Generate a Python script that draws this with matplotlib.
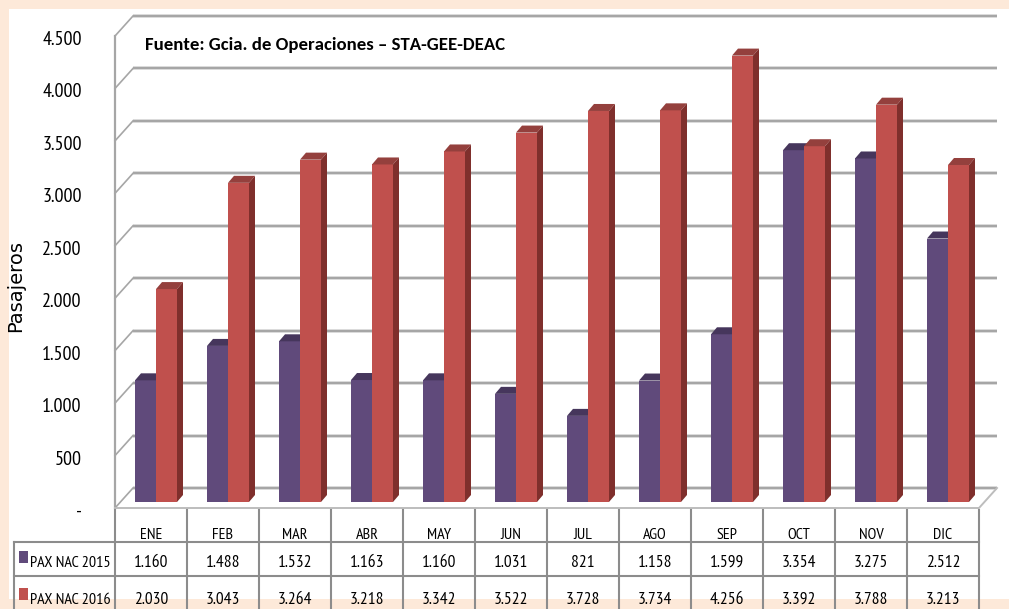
import numpy as np
from matplotlib import pyplot as plt
from matplotlib.patches import Polygon, Rectangle
from matplotlib.transforms import ScaledTranslation

meses = ['ENE', 'FEB', 'MAR', 'ABR', 'MAY', 'JUN', 'JUL', 'AGO', 'SEP', 'OCT', 'NOV', 'DIC']
pax_2015 = [1160, 1488, 1532, 1163, 1160, 1031, 821, 1158, 1599, 3354, 3275, 2512]
pax_2016 = [2030, 3043, 3264, 3218, 3342, 3522, 3728, 3734, 4256, 3392, 3788, 3213]
ticks_y = [0, 500, 1000, 1500, 2000, 2500, 3000, 3500, 4000, 4500]
labels_y = ['-', '500', '1.000', '1.500', '2.000', '2.500', '3.000', '3.500', '4.000', '4.500']
nombres = ['PAX NAC 2015', 'PAX NAC 2016']
fuente = 'Fuente: Gcia. de Operaciones – STA-GEE-DEAC'

W, H = 1009, 609
narrow = ['PT Sans Narrow', 'Liberation Sans']
morado, morado_top = '#604A7B', '#46365C'
rojo, rojo_top, rojo_lado = '#C0504D', '#94403D', '#7F2F2C'
gris = '#A6A6A6'
linea = '#8C8C8C'

fig = plt.figure(figsize=(W / 100, H / 100), dpi=100, facecolor='#FDE9D9')
# panel blanco detras de todo
fig.add_artist(Rectangle((9 / W, 1 - 599 / H), 1 - 9 / W, 590 / H, transform=fig.transFigure,
                         facecolor='white', edgecolor='none', zorder=-5))

# plano frontal: x 115-979, valor 0 en y=508, 4500 en y=36
ax = fig.add_axes([115 / W, 1 - 508 / H, 864 / W, 472 / H])
ax.patch.set_alpha(0)
ax.set_xlim(-0.5, 11.5)
ax.set_ylim(0, 4500)
for s in ax.spines.values():
    s.set_visible(False)

# pasar pixeles a unidades de datos
ux = 1 / 72
uy = 4500 / 472


def py(p):
    return (508 - p) * uy


# paredes y rejilla 3D
fondo_x, fondo_y = 18 * ux, 20 * uy
x0, x1 = -0.5, 11.5
for t in ticks_y:
    ax.plot([x0 + fondo_x, x1 + fondo_x], [t + fondo_y, t + fondo_y], color='#DDDDDD', lw=2.8,
            clip_on=False, zorder=1, solid_capstyle='butt')
    ax.plot([x0 + fondo_x, x1 + fondo_x], [t + fondo_y, t + fondo_y], color=gris, lw=1.5,
            clip_on=False, zorder=1.1, solid_capstyle='butt')
    ax.plot([x0, x0 + fondo_x], [t, t + fondo_y], color=gris, lw=1.2, clip_on=False, zorder=1.1)
ax.plot([x0, x0], [0, 4500], color=gris, lw=1.6, clip_on=False, zorder=1.2)
ax.plot([x0, x1, x1 + fondo_x], [0, 0, fondo_y], color='#BDBDBD', lw=1.4, clip_on=False, zorder=1.2)

# barras con profundidad
ancho = 21 * ux
gap_x, gap_y = 5 * ux, 6 * uy
dx, dy = 6 * ux, 7 * uy


def barra(xi, v, color, top, lado):
    base = gap_y
    alto = base + v
    ax.bar(xi, v, width=ancho, bottom=base, align='edge', color=color, edgecolor='none', zorder=3)
    ax.add_patch(Polygon([(xi, alto), (xi + dx, alto + dy), (xi + ancho + dx, alto + dy), (xi + ancho, alto)],
                         facecolor=top, edgecolor='none', clip_on=False, zorder=3))
    ax.add_patch(Polygon([(xi + ancho, base), (xi + ancho + dx, base + dy), (xi + ancho + dx, alto + dy), (xi + ancho, alto)],
                         facecolor=lado, edgecolor='none', clip_on=False, zorder=3))


for i in range(len(meses)):
    barra(i + gap_x - ancho, pax_2015[i], morado, morado_top, morado_top)
    barra(i + gap_x, pax_2016[i], rojo, rojo_top, rojo_lado)

# ejes
ax.set_yticks(ticks_y)
ax.set_yticklabels(labels_y, family=narrow, fontsize=14.5, color='black')
ax.set_xticks(range(len(meses)))
ax.set_xticklabels(meses, family=narrow, fontsize=11.5, color='black')
ax.tick_params(axis='y', length=0, pad=24)
ax.tick_params(axis='x', length=0, pad=14.5)
# etiquetas del eje y un poco mas abajo
baja = ScaledTranslation(0, -2 / 100, fig.dpi_scale_trans)
for lab in ax.get_yticklabels():
    lab.set_transform(lab.get_transform() + baja)
fig.text(16 / W, 1 - 286 / H, 'Pasajeros', rotation=90, ha='center', va='center',
         family='DejaVu Sans', fontsize=14, color='black')
fig.text(145 / W, 1 - 45 / H, fuente, ha='left', va='center', family='Carlito',
         fontweight='bold', fontsize=13.5, color='black')

# tabla de datos
for k in range(13):
    ax.plot([k - 0.5, k - 0.5], [py(510), py(609)], color=linea, lw=1.5, clip_on=False, zorder=2)
for p in [542, 576]:
    ax.plot([x0 - 101 * ux, x1], [py(p), py(p)], color=linea, lw=1.5, clip_on=False, zorder=2)
ax.plot([x0 - 101 * ux, x0 - 101 * ux], [py(542), py(609)], color=linea, lw=1.5, clip_on=False, zorder=2)

filas = [(pax_2015, morado, 563, 557), (pax_2016, rojo, 600, 594)]
for nombre, (serie, color, yf, yk) in zip(nombres, filas):
    ax.add_patch(Rectangle((x0 - 96 * ux, py(yk + 6)), 9 * ux, 12 * uy, facecolor=color,
                           edgecolor='none', clip_on=False, zorder=3))
    ax.text(x0 - 85 * ux, py(yf), nombre, ha='left', va='center', family=narrow, fontsize=11.5,
            color='black', clip_on=False)
    for i, v in enumerate(serie):
        txt = f'{v:,}'.replace(',', '.')
        ax.text(i, py(yf), txt, ha='center', va='center', family=narrow, fontsize=12.5,
                color='black', clip_on=False)

fig.savefig('out.png', dpi=100, facecolor=fig.get_facecolor())
